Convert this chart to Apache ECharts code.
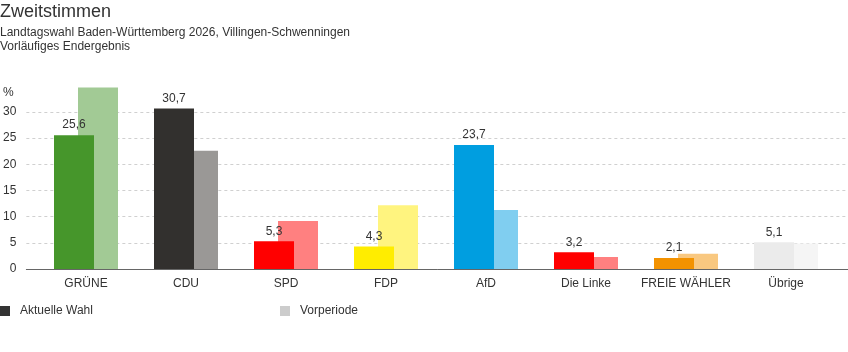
<!DOCTYPE html>
<html>
<head>
<meta charset="utf-8">
<script src="https://cdn.jsdelivr.net/npm/echarts@6/dist/echarts.min.js"></script>
<style>
  html, body { margin: 0; padding: 0; background: #fff; }
  #main { width: 848px; height: 352px; }
</style>
</head>
<body>
<div id="main"></div>
<script>
  // Parteien
  var parteien = ['GRÜNE', 'CDU', 'SPD', 'FDP', 'AfD', 'Die Linke', 'FREIE WÄHLER', 'Übrige'];
  // Zweitstimmen in %
  var aktuell = [25.6, 30.7, 5.3, 4.3, 23.7, 3.2, 2.1, 5.1];
  var vorperiode = [34.7, 22.6, 9.2, 12.2, 11.3, 2.3, 2.9, 4.9];
  // Parteifarben (aktuell / vorperiode)
  var farbenAktuell = ['#46962b', '#32302e', '#ff0000', '#ffed00', '#009ee0', '#ff0000', '#f39200', '#ebebeb'];
  var farbenVor = ['#a2ca95', '#9a9896', '#ff8080', '#fff47f', '#80cef0', '#ff8080', '#f9c880', '#f5f5f5'];

  var font = 'Liberation Sans, Arial, sans-serif';

  var myChart = echarts.init(document.getElementById('main'));
  myChart.setOption({
    animation: false,
    textStyle: { fontFamily: font },
    title: [
      {
        text: 'Zweitstimmen',
        subtext: 'Landtagswahl Baden-Württemberg 2026, Villingen-Schwenningen\nVorläufiges Endergebnis',
        left: 0,
        top: 3,
        padding: 0,
        itemGap: 5,
        textStyle: { fontSize: 18, fontWeight: 'normal', color: '#333', fontFamily: font },
        subtextStyle: { fontSize: 12, color: '#333', lineHeight: 14, fontFamily: font }
      },
      {
        text: '%',
        left: 3,
        top: 87,
        padding: 0,
        textStyle: { fontSize: 12, fontWeight: 'normal', color: '#333', fontFamily: font }
      }
    ],
    legend: [
      {
        data: ['Aktuelle Wahl'],
        left: 0,
        top: 305,
        padding: 0,
        icon: 'rect',
        itemWidth: 10,
        itemHeight: 10,
        textStyle: { fontSize: 12, color: '#333', padding: [0, 0, 0, 5] }
      },
      {
        data: ['Vorperiode'],
        left: 280,
        top: 305,
        padding: 0,
        icon: 'rect',
        itemWidth: 10,
        itemHeight: 10,
        textStyle: { fontSize: 12, color: '#333', padding: [0, 0, 0, 5] }
      }
    ],
    grid: [
      { left: 36, right: 12, top: 86, bottom: 83 },
      { left: 24, right: 0, top: 112, bottom: 83 }
    ],
    xAxis: [
      {
        type: 'category',
        gridIndex: 0,
        data: parteien,
        axisLine: { show: false },
        axisTick: { show: false },
        axisLabel: { color: '#333', fontSize: 12, margin: 9, interval: 0 }
      },
      {
        type: 'value',
        gridIndex: 1,
        show: true,
        min: 0,
        max: 1,
        axisLine: { show: true, lineStyle: { color: '#666', width: 1 } },
        axisTick: { show: false },
        axisLabel: { show: false },
        splitLine: { show: false }
      }
    ],
    yAxis: [
      {
        type: 'value',
        gridIndex: 0,
        min: 0,
        max: 35,
        show: false
      },
      {
        type: 'value',
        gridIndex: 1,
        min: 0,
        max: 30,
        interval: 5,
        axisLine: { show: false },
        axisTick: { show: false },
        axisLabel: { color: '#333', fontSize: 12, margin: 10 },
        splitLine: { show: true, lineStyle: { color: '#d0d0d0', type: [3, 3], width: 1 } }
      }
    ],
    series: [
      {
        name: 'Aktuelle Wahl',
        type: 'bar',
        xAxisIndex: 0,
        yAxisIndex: 0,
        z: 3,
        barWidth: 40,
        barGap: '-40%',
        itemStyle: { color: '#333' },
        data: aktuell.map(function (v, i) {
          return { value: v, itemStyle: { color: farbenAktuell[i] } };
        }),
        label: {
          show: true,
          position: 'top',
          distance: 4,
          color: '#333',
          fontSize: 12,
          formatter: function (p) { return String(p.value).replace('.', ','); }
        }
      },
      {
        name: 'Vorperiode',
        type: 'bar',
        xAxisIndex: 0,
        yAxisIndex: 0,
        z: 2,
        barWidth: 40,
        barGap: '-40%',
        itemStyle: { color: '#ccc' },
        data: vorperiode.map(function (v, i) {
          return { value: v, itemStyle: { color: farbenVor[i] } };
        })
      }
    ]
  });
</script>
</body>
</html>
